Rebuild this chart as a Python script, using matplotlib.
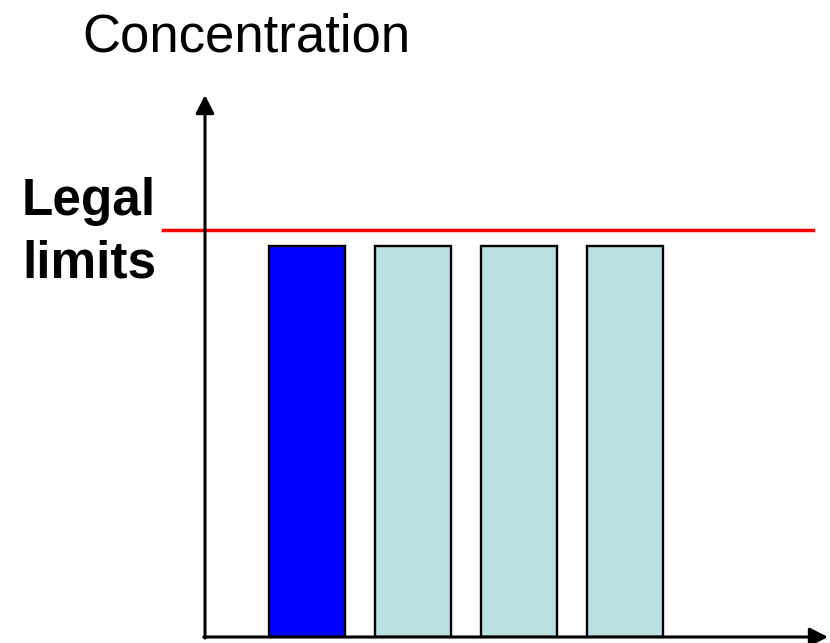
import matplotlib
matplotlib.use("Agg")
import matplotlib.pyplot as plt

# ==========================
# DATA
# ==========================
positions = [1, 2, 3, 4]
concentrations = [1.0, 1.0, 1.0, 1.0]
bar_colors = ["#0000FF", "#BBE0E3", "#BBE0E3", "#BBE0E3"]
legal_limit = 1.04

plt.rcParams["font.family"] = ["Liberation Sans", "DejaVu Sans"]

fig = plt.figure(figsize=(8.30, 6.43), dpi=100)
W, H = 830, 643
# axes origin at pixel (205, 637), y arrow tip at 95, x arrow tip at 828
ax = fig.add_axes([205 / W, (H - 637) / H, (828 - 205) / W, (637 - 95) / H])
ax.set_xlim(0.038, 0.038 + 623 / 106)
ax.set_ylim(0, 542 / 391)

ax.bar(positions, concentrations, width=0.72, color=bar_colors,
       edgecolor="black", linewidth=1.7, zorder=2)

# legal limit line (extends left past the axis)
ax.axhline(legal_limit, xmin=(163 - 205) / 623, xmax=(813 - 205) / 623,
           color="#FF0000", linewidth=2.5, clip_on=False, zorder=3)

for s in ax.spines.values():
    s.set_visible(False)
ax.set_xticks([])
ax.set_yticks([])

# axis arrows
arrow = dict(arrowstyle="-|>,head_length=0.55,head_width=0.28", color="black",
             linewidth=2.2, shrinkA=0, shrinkB=0, mutation_scale=20)
ax.annotate("", xy=(0, 1), xytext=(0, -0.002), xycoords="axes fraction",
            arrowprops=arrow, annotation_clip=False)
ax.annotate("", xy=(1, 0), xytext=(-0.002, 0), xycoords="axes fraction",
            arrowprops=arrow, annotation_clip=False)

fig.text(82 / W, 1 - 52 / H, "Concentration", fontsize=38, ha="left",
         va="baseline")
fig.text(22 / W, 1 - 215 / H, "Legal", fontsize=37, fontweight="bold",
         ha="left", va="baseline")
fig.text(22 / W, 1 - 278 / H, "limits", fontsize=37, fontweight="bold",
         ha="left", va="baseline")

fig.savefig("out.png", dpi=100)
